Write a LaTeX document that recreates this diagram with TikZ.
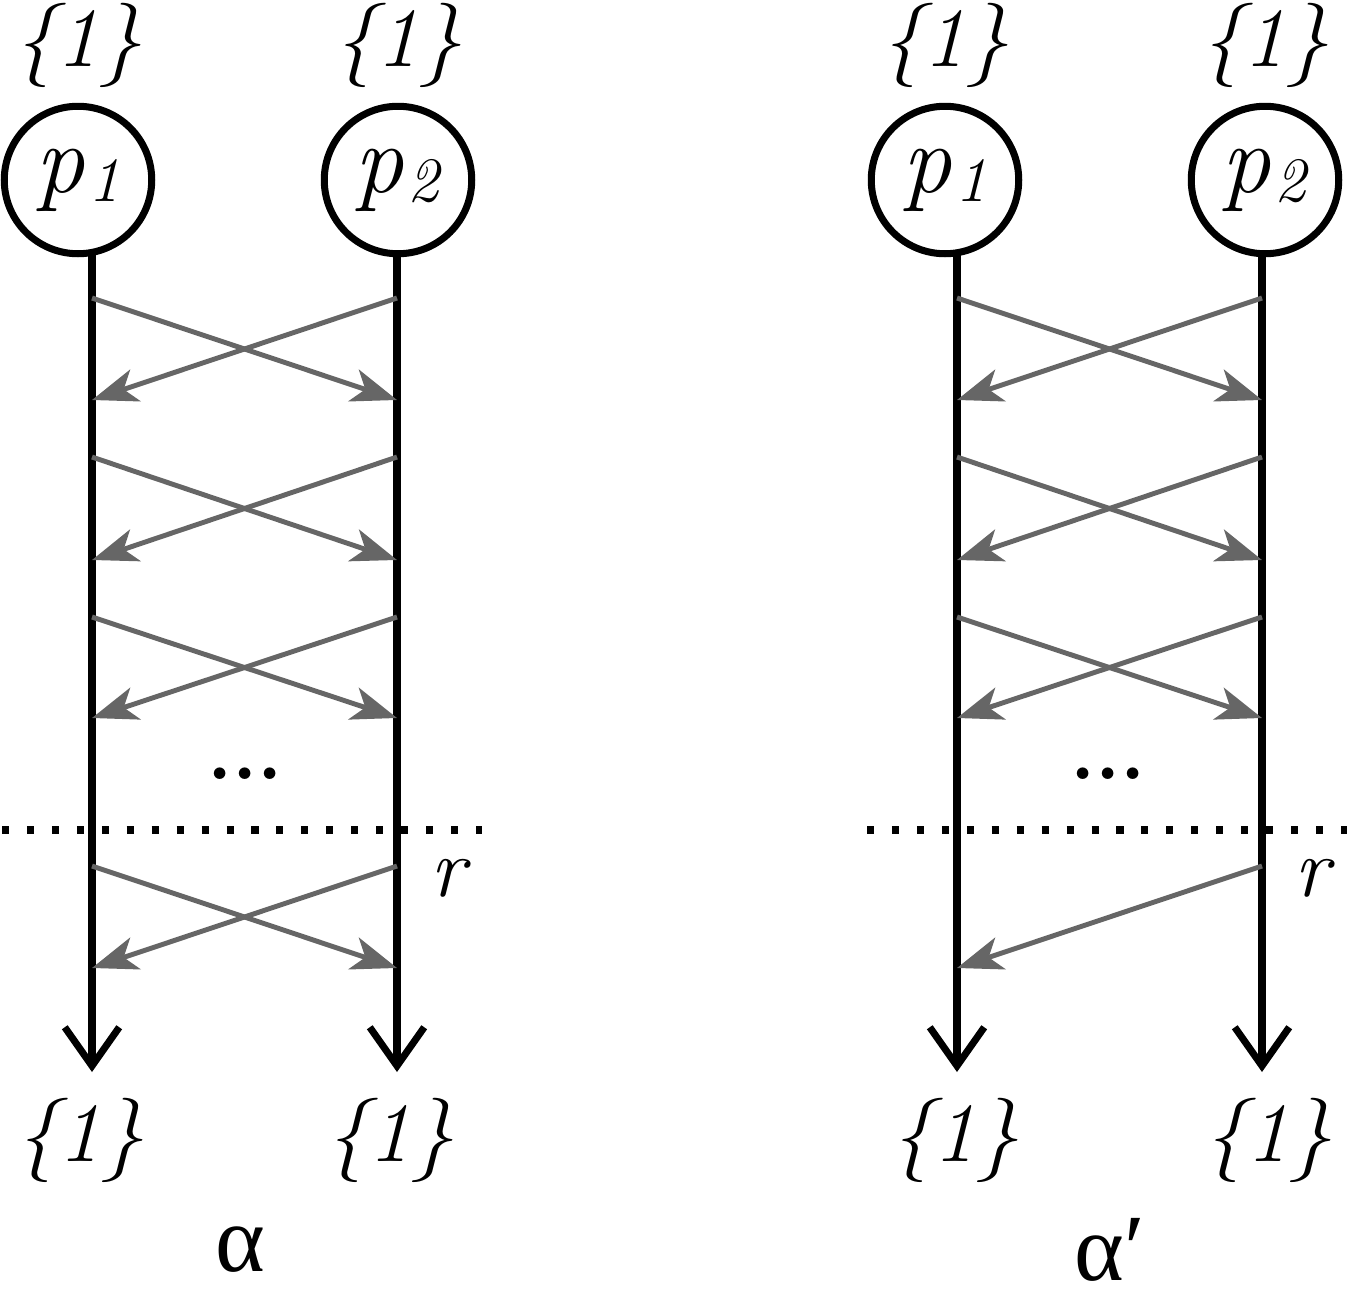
\documentclass[tikz,border=0pt]{standalone}
\usepackage{fontspec}
\newfontfamily\grk{Liberation Serif}
\usetikzlibrary{arrows.meta}
\definecolor{msgc}{HTML}{666666}
\newcommand{\pp}[1]{\textit{p}\kern0.04em\raisebox{-0.1em}{\fontsize{36}{36}\selectfont\textit{#1}}}
\begin{document}
\begin{tikzpicture}[x=0.02cm,y=-0.02cm,
  proc/.style={circle, draw, line width=4pt, minimum size=2.95cm, inner sep=0pt,
    font=\fontsize{56}{60}\selectfont},
  lbl/.style={inner sep=0pt, font=\fontsize{48}{54}\selectfont\itshape},
  greek/.style={inner sep=0pt, font=\fontsize{54}{58}\selectfont\grk},
  life/.style={line width=4pt, -{Straight Barb[length=22pt,width=31pt,line width=4pt]}},
  msg/.style={line width=2.8pt, draw=msgc, -{Stealth[length=26pt,width=19pt,inset=7pt]}},
  dotsty/.style={inner sep=0pt, font=\fontsize{46}{50}\selectfont\bfseries},
  cut/.style={line width=4pt, dash pattern=on 4pt off 10.2pt}]
\useasboundingbox (0,0) rectangle (1347,1302);

\foreach \side/\xa/\xb/\ca/\cb/\ba/\bb in {L/92/397/78/398/80/390, R/957/1262/945/1265/955/1268}{
  \node[lbl] (top1\side) at (\ca,45) {\{1\}};
  \node[lbl] (top2\side) at (\cb,45) {\{1\}};
  \node[proc] (p1\side) at (\ca,180) {\pp{1}};
  \node[proc] (p2\side) at (\cb,180) {\pp{2}};
  \coordinate (s1\side) at (\xa,254);
  \coordinate (s2\side) at (\xb,256);
  \coordinate (e1\side) at (\xa,1072);
  \coordinate (e2\side) at (\xb,1072);
  \draw[life] (s1\side) -- (e1\side);
  \draw[life] (s2\side) -- (e2\side);
  \node[lbl] (bot1\side) at (\ba,1140) {\{1\}};
  \node[lbl] (bot2\side) at (\bb,1140) {\{1\}};
}

% alpha labels
\node[greek] (alpha) at (240,1250) {α};
\node[greek] (alphap) at (1110,1250) {α′};

% messages left
\foreach \i/\ya/\yb in {1/298/400, 2/457/560, 3/617/718, 4/866/968}{
  \coordinate (la\i) at (92,\ya);
  \coordinate (lb\i) at (397,\ya);
  \coordinate (lc\i) at (92,\yb);
  \coordinate (ld\i) at (397,\yb);
  \draw[msg] (la\i) -- (ld\i);
  \draw[msg] (lb\i) -- (lc\i);
}
% messages right
\foreach \i/\ya/\yb in {1/298/400, 2/457/560, 3/617/718}{
  \coordinate (ra\i) at (957,\ya);
  \coordinate (rb\i) at (1262,\ya);
  \coordinate (rc\i) at (957,\yb);
  \coordinate (rd\i) at (1262,\yb);
  \draw[msg] (ra\i) -- (rd\i);
  \draw[msg] (rb\i) -- (rc\i);
}
\coordinate (rb4) at (1262,866);
\coordinate (rc4) at (957,968);
\draw[msg] (rb4) -- (rc4);

% dots
\node[dotsty] (dotsL) at (245,774) {...};
\node[dotsty] (dotsR) at (1108,774) {...};

% cut lines
\coordinate (cutLa) at (2,830);
\coordinate (cutLb) at (482,830);
\coordinate (cutRa) at (867,830);
\coordinate (cutRb) at (1347,830);
\draw[cut] (cutLa) -- (cutLb);
\draw[cut] (cutRa) -- (cutRb);

% r labels
\node[lbl] (rL) at (448,878) {r};
\node[lbl] (rR) at (1312,878) {r};
\end{tikzpicture}
\end{document}
